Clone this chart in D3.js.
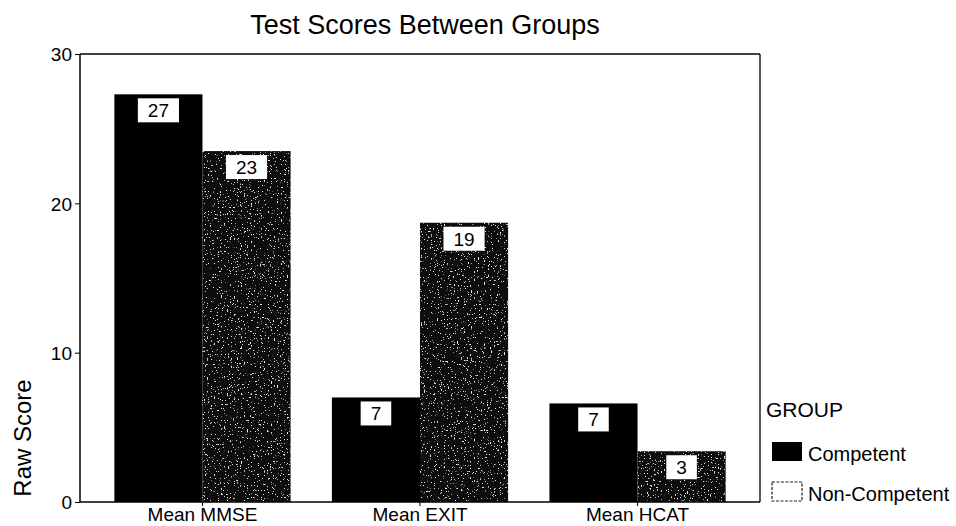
<!DOCTYPE html>
<html><head><meta charset="utf-8">
<script src="https://cdn.jsdelivr.net/npm/d3@7"></script>
<style>body{margin:0;background:#fff}svg{display:block}text{font-family:"Liberation Sans",Arial,sans-serif;fill:#000}</style>
</head><body>
<svg id="c" width="956" height="526"></svg>
<script>
const categories = ["Mean MMSE", "Mean EXIT", "Mean HCAT"];
const groups = ["Competent", "Non-Competent"];
const competent = [27.3, 7.0, 6.6];
const nonCompetent = [23.5, 18.7, 3.4];
const labelsCompetent = ["27", "7", "7"];
const labelsNonCompetent = ["23", "19", "3"];
const yTicks = [0, 10, 20, 30];

const svg = d3.select("#c");
const L = 80, R = 760, T = 54, B = 502;

const defs = svg.append("defs");
const f = defs.append("filter").attr("id","speckle").attr("x",0).attr("y",0).attr("width","100%").attr("height","100%");
f.append("feTurbulence").attr("type","fractalNoise").attr("baseFrequency",0.7).attr("numOctaves",2).attr("seed",4).attr("result","n");
f.append("feColorMatrix").attr("in","n").attr("type","matrix")
  .attr("values","0 0 0 0 0.8  0 0 0 0 0.8  0 0 0 0 0.8  16 0 0 0 -10.6").attr("result","dots");
f.append("feComposite").attr("in","dots").attr("in2","SourceGraphic").attr("operator","in").attr("result","clipped");
const m = f.append("feMerge");
m.append("feMergeNode").attr("in","SourceGraphic");
m.append("feMergeNode").attr("in","clipped");

const x0 = d3.scaleBand().domain(categories).range([L, R]).paddingInner(0.19).paddingOuter(0.158);
const x1 = d3.scaleBand().domain(groups).range([0, x0.bandwidth()]);
const y = d3.scaleLinear().domain([0, 30]).range([B, T]);

// frame top/right
svg.append("line").attr("x1",L).attr("x2",R).attr("y1",T).attr("y2",T).attr("stroke","#000").attr("stroke-width",1.3);
svg.append("line").attr("x1",R).attr("x2",R).attr("y1",T).attr("y2",B).attr("stroke","#000").attr("stroke-width",1.3);

const data = [];
categories.forEach((c,i)=>{
  data.push({c, g:groups[0], v:competent[i], lab:labelsCompetent[i]});
  data.push({c, g:groups[1], v:nonCompetent[i], lab:labelsNonCompetent[i]});
});

svg.append("g").selectAll("rect").data(data).join("rect")
  .attr("x", d=>x0(d.c)+x1(d.g))
  .attr("y", d=>y(d.v))
  .attr("width", x1.bandwidth())
  .attr("height", d=>B-y(d.v))
  .attr("fill", d=>d.g===groups[0] ? "#000" : "#0a0a0a")
  .attr("filter", d=>d.g===groups[0] ? null : "url(#speckle)");

const lg = svg.append("g").selectAll("g").data(data).join("g");
lg.each(function(d){
  const g = d3.select(this);
  const cx = x0(d.c)+x1(d.g)+x1.bandwidth()/2;
  const t = g.append("text").attr("x",cx).attr("y",y(d.v)+23).attr("text-anchor","middle").attr("font-size",19).text(d.lab);
  const w = t.node().getComputedTextLength()+20;
  g.insert("rect","text").attr("x",cx-w/2).attr("y",y(d.v)+4).attr("width",w).attr("height",24).attr("fill","#fff");
});

// axes
const ya = svg.append("g").attr("transform",`translate(${L},0)`)
  .call(d3.axisLeft(y).tickValues(yTicks).tickSize(5).tickPadding(3).tickFormat(d3.format("d")));
ya.select(".domain").attr("stroke-width",1.5).attr("d",`M-0,${T}V${B}`);
ya.selectAll("text").attr("font-size",19).attr("font-family","Liberation Sans, Arial, sans-serif").attr("fill","#000").attr("dy","0.36em");
ya.selectAll("line").attr("stroke","#000");

const xa = svg.append("g").attr("transform",`translate(0,${B})`)
  .call(d3.axisBottom(x0).tickSize(4).tickPadding(2).tickSizeOuter(0));
xa.select(".domain").attr("stroke-width",1.5).attr("d",`M${L},0H${R}`);
xa.selectAll("text").attr("font-size",19).attr("font-family","Liberation Sans, Arial, sans-serif").attr("fill","#000").attr("dy","0.7em");
xa.selectAll("line").attr("stroke","#000");

svg.append("text").attr("x",425).attr("y",34).attr("text-anchor","middle").attr("font-size",27).text("Test Scores Between Groups");
svg.append("text").attr("transform","translate(31,438) rotate(-90)").attr("text-anchor","middle").attr("font-size",24).text("Raw Score");

// legend
svg.append("text").attr("x",766).attr("y",417).attr("font-size",21).text("GROUP");
const leg = svg.append("g").selectAll("g").data(groups).join("g");
leg.append("rect").attr("x",772).attr("y",(d,i)=>442+i*40).attr("width",30).attr("height",19)
  .attr("fill",(d,i)=>i===0?"#000":"#fff").attr("stroke","#222").attr("stroke-width",(d,i)=>i===0?0:1.2)
  .attr("stroke-dasharray",(d,i)=>i===0?null:"3,1.5");
leg.append("text").attr("x",808).attr("y",(d,i)=>461+i*40).attr("font-size",20).text(d=>d);
</script>
</body></html>
